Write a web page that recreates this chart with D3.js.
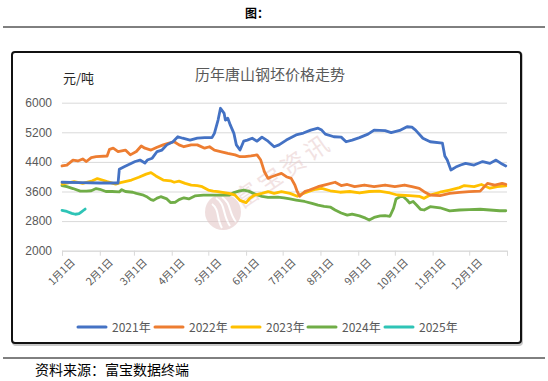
<!DOCTYPE html>
<html><head><meta charset="utf-8">
<script src="https://cdn.jsdelivr.net/npm/d3@7"></script>
<style>
html,body{margin:0;padding:0;background:#fff;}
svg{display:block;}
</style></head>
<body>
<svg id="c" width="548" height="381"></svg>
<script>
// ---------- data ----------
const seriesNames = ["2021年","2022年","2023年","2024年","2025年"];
const seriesColors = ["#4472C4","#ED7D31","#FFC000","#70AD47","#2EC4B6"];
const yTicks = [2000,2800,3600,4400,5200,6000];
const monthLabels = ["1月1日","2月1日","3月1日","4月1日","5月1日","6月1日","7月1日","8月1日","9月1日","10月1日","11月1日","12月1日"];

const dates2021 = ["01-01","01-16","02-01","02-16","02-17","02-21","03-02","03-06","03-10","03-12","03-16","03-20","03-24","03-28","04-02","04-06","04-10","04-16","04-22","04-28","05-04","05-06","05-09","05-11","05-14","05-15","05-17","05-19","05-22","05-24","05-27","05-30","06-02","06-06","06-10","06-14","06-19","06-24","06-28","07-04","07-12","07-18","07-24","07-30","08-02","08-05","08-12","08-18","08-22","08-27","09-02","09-09","09-14","09-23","09-28","10-05","10-11","10-15","10-18","10-24","10-30","11-09","11-11","11-13","11-16","11-20","11-24","11-28","12-05","12-12","12-18","12-23","12-28","12-31"];
const values2021 = [3850,3840,3830,3830,4200,4270,4410,4450,4370,4450,4500,4680,4720,4860,4945,5080,5040,4990,5045,5055,5055,5170,5530,5850,5710,5530,5580,5400,5170,4860,4720,4960,4990,5040,4960,5070,4960,4810,4860,4990,5130,5180,5260,5310,5260,5150,5080,5070,4945,4990,5055,5150,5260,5245,5190,5250,5350,5340,5260,5040,4945,4910,4560,4450,4180,4260,4315,4360,4315,4410,4360,4450,4340,4290];

const dates2022 = ["01-01","01-05","01-10","01-14","01-18","01-21","01-25","01-29","02-07","02-09","02-12","02-16","02-22","02-26","03-03","03-07","03-10","03-15","03-20","03-25","03-29","04-03","04-07","04-11","04-17","04-22","04-28","05-02","05-06","05-11","05-17","05-23","05-27","05-31","06-05","06-10","06-13","06-16","06-19","06-22","06-26","06-30","07-04","07-08","07-11","07-13","07-15","07-19","07-23","07-30","08-04","08-13","08-18","08-23","08-29","09-06","09-14","09-23","10-01","10-09","10-15","10-21","10-25","10-30","11-07","11-15","11-23","12-01","12-10","12-16","12-22","12-28","12-31"];
const values2022 = [4290,4315,4450,4425,4480,4410,4515,4540,4560,4740,4770,4680,4720,4590,4680,4830,4770,4720,4795,4860,4900,4945,4860,4810,4860,4860,4770,4810,4720,4680,4630,4590,4540,4540,4560,4590,4450,4135,3955,4000,4045,4090,4000,3955,3775,3595,3470,3595,3640,3730,3775,3850,3760,3790,3730,3775,3730,3775,3730,3775,3730,3685,3595,3505,3490,3550,3575,3595,3610,3820,3775,3820,3795];

const dates2023 = ["01-01","01-11","01-18","01-26","01-30","02-03","02-07","02-14","02-18","02-27","03-05","03-11","03-15","03-19","03-25","03-31","04-03","04-07","04-12","04-17","04-22","04-26","05-01","05-05","05-09","05-14","05-18","05-23","05-27","06-01","06-04","06-08","06-14","06-19","06-24","06-30","07-07","07-13","07-18","07-23","07-28","08-02","08-09","08-17","08-25","09-02","09-10","09-18","09-27","10-03","10-13","10-21","10-25","10-30","11-07","11-15","11-23","11-27","12-05","12-11","12-18","12-24","12-31"];
const values2023 = [3800,3865,3820,3890,3950,3910,3865,3800,3840,3910,3985,4070,4110,4020,3910,3890,3850,3880,3820,3775,3760,3730,3640,3610,3595,3570,3550,3500,3360,3300,3415,3505,3550,3595,3550,3595,3550,3470,3550,3610,3660,3685,3620,3580,3600,3560,3600,3610,3560,3505,3490,3470,3415,3505,3580,3640,3705,3760,3730,3790,3690,3730,3750];

const dates2024 = ["01-01","01-05","01-10","01-16","01-21","01-25","01-29","02-01","02-06","02-11","02-17","02-19","02-22","02-28","03-03","03-08","03-12","03-15","03-17","03-20","03-23","03-28","03-31","04-04","04-07","04-11","04-15","04-20","04-27","05-03","05-08","05-13","05-18","05-22","05-26","05-30","06-03","06-09","06-14","06-19","06-27","07-02","07-07","07-12","07-19","07-25","07-30","08-04","08-09","08-13","08-18","08-23","08-27","09-02","09-07","09-10","09-14","09-19","09-23","09-27","09-30","10-02","10-06","10-08","10-11","10-13","10-16","10-19","10-22","10-25","10-30","11-07","11-15","11-23","12-01","12-10","12-18","12-26","12-31"];
const values2024 = [3760,3730,3680,3610,3610,3620,3680,3660,3600,3600,3590,3650,3600,3580,3550,3510,3450,3380,3360,3420,3460,3400,3300,3310,3380,3430,3400,3480,3500,3500,3500,3510,3500,3570,3610,3640,3610,3520,3470,3440,3450,3430,3400,3370,3330,3280,3230,3200,3180,3100,3020,2960,2990,2940,2880,2830,2900,2940,2950,2930,3150,3400,3470,3460,3370,3290,3330,3230,3120,3100,3190,3160,3075,3100,3110,3120,3100,3080,3080];

const dates2025 = ["01-01","01-05","01-09","01-12","01-15","01-17","01-19","01-20"];
const values2025 = [3090,3060,3010,2985,3000,3050,3100,3125];

// ---------- chart ----------
const svg = d3.select("#c");
const parse = d3.timeParse("%Y-%m-%d");
const toDate = s => parse("2021-" + s);

const M = {left: 62, right: 507, top: 102.7, bottom: 250.7};
const x = d3.scaleTime().domain([new Date(2021,0,1), new Date(2022,0,1)]).range([M.left, M.right]);
const y = d3.scaleLinear().domain([2000,6000]).range([M.bottom, M.top]);

const FONT = "'Liberation Sans', Arial, 'Noto Sans CJK SC', sans-serif";
const CJK = "'Noto Sans CJK SC', sans-serif";

// page header
svg.append("text").attr("x", 257).attr("y", 18).attr("text-anchor","middle")
  .style("font-family", CJK).style("font-size","12px").style("font-weight","bold").attr("fill","#000").text("图：");
svg.append("line").attr("x1",3).attr("x2",545).attr("y1",27).attr("y2",27).attr("stroke","#000").attr("stroke-width",1);

// frame (with soft shadow)
svg.append("rect").attr("x",13).attr("y",53).attr("width",509).attr("height",292).attr("rx",3)
  .attr("fill","none").attr("stroke","#c8c8c8").attr("stroke-width",2);
svg.append("rect").attr("x",12).attr("y",52).attr("width",509).attr("height",291).attr("rx",3)
  .attr("fill","#fff").attr("stroke","#111").attr("stroke-width",2);

// footer
svg.append("line").attr("x1",3).attr("x2",545).attr("y1",358).attr("y2",358).attr("stroke","#000").attr("stroke-width",1);
svg.append("text").attr("x",35).attr("y",375)
  .style("font-family", CJK).style("font-size","14px").attr("fill","#000").text("资料来源：富宝数据终端");

// title & unit
svg.append("text").attr("x",270).attr("y",80).attr("text-anchor","middle")
  .style("font-family", CJK).style("font-size","15px").attr("fill","#595959").text("历年唐山钢坯价格走势");
svg.append("text").attr("x",63).attr("y",83)
  .style("font-family", CJK).style("font-size","13px").attr("fill","#262626").text("元/吨");

// gridlines + y labels
const gy = svg.append("g").attr("transform", `translate(${M.left},0)`)
  .call(d3.axisLeft(y).tickValues(yTicks).tickSize(-(M.right - M.left)).tickPadding(10).tickFormat(d3.format("d")));
gy.select(".domain").remove();
gy.selectAll(".tick line").attr("stroke","#d9d9d9").attr("stroke-width",1);
gy.selectAll(".tick text").attr("fill","#595959").style("font-family",FONT).style("font-size","12px");

// x axis
const tickDates = d3.range(12).map(m => new Date(2021,m,1)).concat([new Date(2022,0,1)]);
const gx = svg.append("g").attr("transform", `translate(0,${M.bottom})`)
  .call(d3.axisBottom(x).tickValues(tickDates).tickSize(5)
    .tickFormat((d,i) => i < monthLabels.length ? monthLabels[i] : ""));
gx.select(".domain").attr("stroke","#d9d9d9");
gx.selectAll(".tick line").attr("stroke","#d9d9d9");
gx.selectAll(".tick text")
  .attr("fill","#595959").style("font-family",CJK).style("font-size","10.5px")
  .attr("text-anchor","end").attr("transform","translate(5,4) rotate(-45)").attr("dy","0.35em").attr("y",8).attr("x",0);

// watermark
const wm = svg.append("g").attr("opacity",0.55);
wm.append("circle").attr("cx",223).attr("cy",212).attr("r",18).attr("fill","#e3c4c4");
wm.append("path").attr("d","M216,198 C226,204 222,214 230,226 M222,197 C232,204 228,212 236,222 M212,204 C220,210 216,218 222,228")
  .attr("stroke","#fff").attr("stroke-width",2).attr("fill","none");
wm.append("text").attr("transform","translate(288,178) rotate(-34)").attr("text-anchor","middle")
  .style("font-family",CJK).style("font-size","24px").style("letter-spacing","4px").attr("fill","#e8cccc").text("富宝资讯");

// lines
const allDates = [dates2021, dates2022, dates2023, dates2024, dates2025];
const allValues = [values2021, values2022, values2023, values2024, values2025];
const line = d3.line().x(d => x(d.date)).y(d => y(d.value));
const drawOrder = [3,2,1,0,4];
drawOrder.forEach(i => {
  const pts = allDates[i].map((s,k) => ({date: toDate(s), value: allValues[i][k]}));
  svg.append("path").datum(pts).attr("d", line).attr("fill","none")
    .attr("stroke", seriesColors[i]).attr("stroke-width",2.8).attr("stroke-linejoin","round").attr("stroke-linecap","round");
});

// legend
const legendX = [78,155,232,308,385];
seriesNames.forEach((n,i) => {
  const g = svg.append("g").attr("transform", `translate(${legendX[i]},327)`);
  g.append("line").attr("x1",0).attr("x2",28).attr("y1",0).attr("y2",0)
    .attr("stroke",seriesColors[i]).attr("stroke-width",3).attr("stroke-linecap","round");
  g.append("text").attr("x",34).attr("y",4.5).style("font-family",CJK).style("font-size","12px")
    .attr("fill","#595959").text(n);
});
</script>
</body></html>
